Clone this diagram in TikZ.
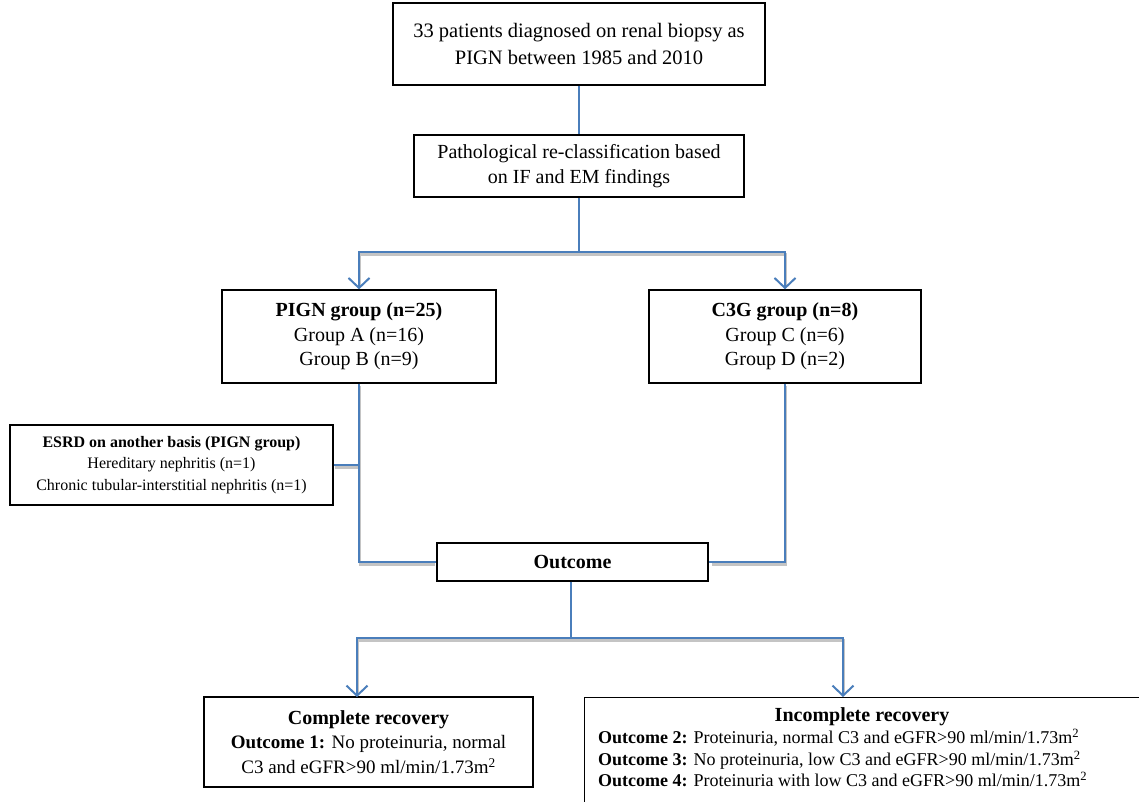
\documentclass[tikz,border=0pt]{standalone}
\usepackage{fontspec}
\setmainfont{Liberation Serif}
\usetikzlibrary{arrows.meta,calc}
\definecolor{lineblue}{HTML}{4A7EBB}
\definecolor{shadowgray}{HTML}{C4C4C4}
\begin{document}
\begin{tikzpicture}[x=1pt,y=-1pt,
  box/.style={draw=black, line width=1.3pt, fill=white, inner sep=0pt, align=center},
  conn/.style={draw=lineblue, line width=2pt},
  shade/.style={draw=shadowgray, line width=2.4pt, transform canvas={shift={(1pt,-2.4pt)}}},
  arr/.style={-{Straight Barb[length=10pt,width=21pt]}},
  big/.style={font=\fontsize{20}{26}\selectfont},
  mid/.style={font=\fontsize{20}{25}\selectfont},
  small/.style={font=\fontsize{16}{21.5}\selectfont}]
\useasboundingbox (0,0) rectangle (1139,802);
\clip (0,0) rectangle (1139,802);

\node[box, big, minimum width=372pt, minimum height=82pt, font=\fontsize{20.5}{27}\selectfont] (top) at (579,44)
  {33 patients diagnosed on renal biopsy as\\PIGN between 1985 and 2010};
\node[box, mid, minimum width=330pt, minimum height=62pt] (recl) at (579,166)
  {Pathological re-classification based\\on IF and EM findings};
\node[box, big, minimum width=274pt, minimum height=93pt, font=\fontsize{20}{24.5}\selectfont] (pign) at (359,336.5)
  {\textbf{PIGN group (n=25)}\\Group A (n=16)\\Group B (n=9)};
\node[box, big, minimum width=272pt, minimum height=93pt, font=\fontsize{20}{24.5}\selectfont] (c3g) at (785,336.5)
  {\textbf{C3G group (n=8)}\\Group C (n=6)\\Group D (n=2)};
\node[box, small, minimum width=323pt, minimum height=80pt] (esrd) at (171.5,465)
  {\textbf{ESRD on another basis (PIGN group)}\\Hereditary nephritis (n=1)\\Chronic tubular-interstitial nephritis (n=1)};
\node[box, big, minimum width=271pt, minimum height=38pt] (outc) at (572.5,562)
  {\textbf{Outcome}};
\node[box, minimum width=329pt, minimum height=90pt, font=\fontsize{19}{24.5}\selectfont] (comp) at (368.5,742)
  {\textbf{\fontsize{20}{24.5}\selectfont Complete recovery}\\\textbf{Outcome 1:} No proteinuria, normal\\C3 and eGFR>90 ml/min/1.73m\textsuperscript{2}};
\node[box, anchor=north west, minimum width=600pt, minimum height=130pt] (incomp) at (584,697) {};
\node[font=\bfseries\fontsize{20}{24}\selectfont] (inctitle) at (862,717) {Incomplete recovery};
\node[anchor=north west, align=left, inner sep=0pt, font=\fontsize{18}{21.5}\selectfont] (inclines) at (598,729)
  {\textbf{Outcome 2:} Proteinuria, normal C3 and eGFR>90 ml/min/1.73m\textsuperscript{2}\\
   \textbf{Outcome 3:} No proteinuria, low C3 and eGFR>90 ml/min/1.73m\textsuperscript{2}\\
   \textbf{Outcome 4:} Proteinuria with low C3 and eGFR>90 ml/min/1.73m\textsuperscript{2}};

\coordinate (b1) at (579,252);
\coordinate (b2) at (571,638);
\coordinate (cin) at (357,697);
\coordinate (iin) at (843,697);

% grey drop shadows of the connectors
\draw[shade, shorten >=5pt] (b1) -| (pign.north);
\draw[shade, shorten >=5pt] (b1) -| (c3g.north);
\draw[shade, shorten >=2pt] (pign.south) |- (outc.west);
\draw[shade, shorten >=2pt] (c3g.south) |- (outc.east);
\draw[shade] (esrd.east) -- (esrd.east -| pign.south);
\draw[shade, shorten >=5pt] (b2) -| (cin);
\draw[shade, shorten >=5pt] (b2) -| (iin);

\draw[conn] (top.south) -- (recl.north);
\draw[conn] (recl.south) -- (b1);
\draw[conn, arr] (b1) -| (pign.north);
\draw[conn, arr] (b1) -| (c3g.north);
\draw[conn] (pign.south) |- (outc.west);
\draw[conn] (c3g.south) |- (outc.east);
\draw[conn] (esrd.east) -- (esrd.east -| pign.south);
\draw[conn] (outc.south -| b2) -- (b2);
\draw[conn, arr] (b2) -| (cin);
\draw[conn, arr] (b2) -| (iin);
\end{tikzpicture}
\end{document}
